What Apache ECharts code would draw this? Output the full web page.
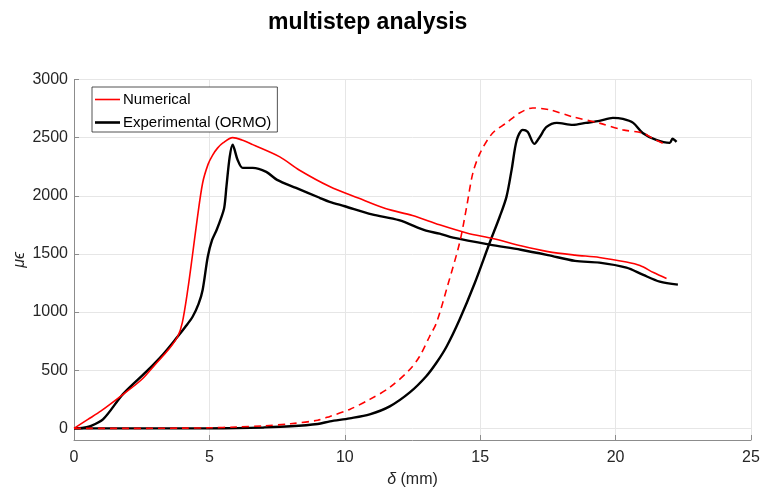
<!DOCTYPE html>
<html>
<head>
<meta charset="utf-8">
<script src="https://cdn.jsdelivr.net/npm/echarts@6/dist/echarts.min.js"></script>
<style>html,body{margin:0;padding:0;background:#fff}#c{width:761px;height:492px}</style>
</head>
<body>
<div id="c"></div>
<script>
// Tick labels
var xTicks = [0, 5, 10, 15, 20, 25];
var yTicks = [0, 500, 1000, 1500, 2000, 2500, 3000];

// Numerical (step 1, solid red)
var numX1 = [0, 0.5, 1.0, 1.8, 2.5, 3.0, 3.5, 3.83, 4.0, 4.2, 4.37, 4.55, 4.75, 4.95, 5.12, 5.3, 5.5, 5.86, 6.2, 6.6, 7.6, 8.33, 9.44, 10.5, 11.5, 12.5, 13.5, 14.5, 15.5, 16.5, 17.5, 18.5, 19.4, 20.4, 20.9, 21.4, 21.88];
var numY1 = [0, 75, 150, 290, 420, 550, 680, 790, 910, 1190, 1480, 1800, 2110, 2270, 2350, 2410, 2455, 2500, 2480, 2440, 2335, 2220, 2080, 1980, 1890, 1830, 1750, 1680, 1630, 1570, 1520, 1490, 1470, 1430, 1400, 1340, 1288];

// Experimental (ORMO) (step 1, black)
var expX1 = [0, 0.3, 0.58, 1.07, 1.8, 2.68, 3.3, 3.83, 4.1, 4.38, 4.6, 4.75, 4.94, 5.1, 5.27, 5.45, 5.55, 5.63, 5.75, 5.86, 5.95, 6.04, 6.23, 6.6, 7.1, 7.5, 8.2, 9.07, 9.44, 10, 11, 12, 13, 13.5, 14, 15.35, 16.5, 17.5, 18.5, 19.4, 20.4, 21.0, 21.63, 22.3];
var expY1 = [0, 3, 17, 77, 292, 490, 640, 790, 870, 960, 1070, 1190, 1476, 1620, 1708, 1820, 1900, 2080, 2335, 2440, 2380, 2310, 2240, 2240, 2205, 2137, 2068, 1983, 1948, 1910, 1840, 1790, 1700, 1674, 1640, 1580, 1536, 1490, 1440, 1425, 1382, 1322, 1262, 1236];

// Numerical (step 2, dashed red)
var numX2 = [0, 2, 4, 5, 6, 7, 8, 9, 9.45, 10.18, 10.92, 11.66, 12.4, 12.76, 13.13, 13.39, 13.8, 14.24, 14.5, 14.73, 15.0, 15.46, 15.97, 16.45, 16.94, 17.56, 18.4, 19.4, 20.27, 21.0, 21.4, 21.88];
var numY2 = [0, 0, 2, 5, 12, 22, 40, 70, 103, 163, 249, 352, 506, 618, 790, 910, 1230, 1596, 1905, 2197, 2369, 2540, 2627, 2712, 2755, 2740, 2680, 2625, 2567, 2540, 2490, 2437];

// Experimental (step 2, black)
var expX2 = [0, 3, 5, 6, 7, 8, 9, 9.45, 10.18, 10.92, 11.66, 12.4, 13.0, 13.39, 13.76, 14.24, 14.8, 15.35, 15.72, 15.97, 16.16, 16.35, 16.57, 16.75, 17.0, 17.2, 17.45, 17.83, 18.42, 18.9, 19.4, 19.9, 20.27, 20.65, 21.0, 21.5, 22.0, 22.1, 22.25];
var expY2 = [0, 0, 0, 2, 8, 18, 38, 60, 86, 120, 189, 309, 446, 566, 704, 936, 1250, 1596, 1820, 1991, 2223, 2480, 2567, 2550, 2446, 2506, 2592, 2627, 2610, 2627, 2644, 2670, 2661, 2627, 2540, 2480, 2455, 2490, 2463];

function pairs(xs, ys) { return xs.map(function (x, i) { return [x, ys[i]]; }); }

var font = 'Liberation Sans, Arial, Helvetica, sans-serif';
var axisGray = '#8c8c8c';
var gridGray = '#e6e6e6';

var chart = echarts.init(document.getElementById('c'), null, { renderer: 'canvas' });
chart.setOption({
  backgroundColor: '#fff',
  animation: false,
  title: {
    text: 'multistep analysis',
    left: 263, top: 6,
    textStyle: { fontFamily: font, fontSize: 23, fontWeight: 'bold', color: '#000' }
  },
  legend: {
    data: [
      { name: 'Numerical', icon: 'path://M0,0H25V1.6H0Z' },
      { name: 'Experimental (ORMO)', icon: 'path://M0,0H25V2.6H0Z' }
    ],
    orient: 'vertical',
    left: 92, top: 87,
    padding: [5, 6, 2, 3],
    itemGap: 8,
    itemWidth: 25,
    itemHeight: 14,
    backgroundColor: '#fff',
    borderColor: '#262626',
    borderWidth: 0.8,
    borderRadius: 0,
    textStyle: { fontFamily: font, fontSize: 15, color: '#000', padding: [0, 0, 0, -2] }
  },
  grid: { left: 74, right: 10, top: 79.5, bottom: 52, containLabel: false, outerBoundsMode: 'none' },
  xAxis: {
    type: 'value', min: 0, max: 25, interval: 5,
    name: '{i|δ} (mm)', nameLocation: 'middle', nameGap: 32, nameMoveOverlap: false,
    nameTextStyle: { fontFamily: font, fontSize: 16, color: '#262626',
      rich: { i: { fontFamily: font, fontSize: 16, fontStyle: 'italic', color: '#262626' } } },
    axisLine: { onZero: false, lineStyle: { color: axisGray, width: 1 } },
    axisTick: { inside: true, length: 5, lineStyle: { color: axisGray } },
    axisLabel: { fontFamily: font, fontSize: 16, color: '#262626', margin: 10,
      customValues: xTicks, formatter: function (v) { return String(v); } },
    splitLine: { show: true, lineStyle: { color: gridGray, width: 1 } }
  },
  yAxis: {
    type: 'value', min: -100, max: 3000,
    name: 'μϵ', nameLocation: 'middle', nameGap: 46, nameRotate: 90, nameMoveOverlap: false,
    nameTextStyle: { fontFamily: font, fontSize: 16, fontStyle: 'italic', color: '#262626' },
    axisLine: { show: true, lineStyle: { color: axisGray, width: 1 } },
    axisTick: { show: true, inside: true, length: 5, lineStyle: { color: axisGray }, customValues: yTicks },
    axisLabel: { fontFamily: font, fontSize: 16, color: '#262626', margin: 6, customValues: yTicks,
      formatter: function (v) { return String(v); } },
    splitLine: { show: true, lineStyle: { color: gridGray, width: 1 } }
  },
  series: [
    { name: 'Numerical', type: 'line', data: pairs(numX1, numY1), showSymbol: false, symbol: 'none',
      smooth: 0.3, lineStyle: { color: '#ff0000', width: 1.6 }, itemStyle: { color: '#ff0000' }, z: 3 },
    { name: 'Experimental (ORMO)', type: 'line', data: pairs(expX1, expY1), showSymbol: false, symbol: 'none',
      smooth: 0.3, lineStyle: { color: '#000', width: 2.4 }, itemStyle: { color: '#000' }, z: 2 },
    { name: 'Numerical step 2', type: 'line', data: pairs(numX2, numY2), showSymbol: false, symbol: 'none',
      smooth: 0.3, lineStyle: { color: '#ff0000', width: 1.6, type: [7, 5] }, itemStyle: { color: '#ff0000' }, z: 3 },
    { name: 'Experimental step 2', type: 'line', data: pairs(expX2, expY2), showSymbol: false, symbol: 'none',
      smooth: 0.3, lineStyle: { color: '#000', width: 2.4 }, itemStyle: { color: '#000' }, z: 2 }
  ]
});
</script>
</body>
</html>
